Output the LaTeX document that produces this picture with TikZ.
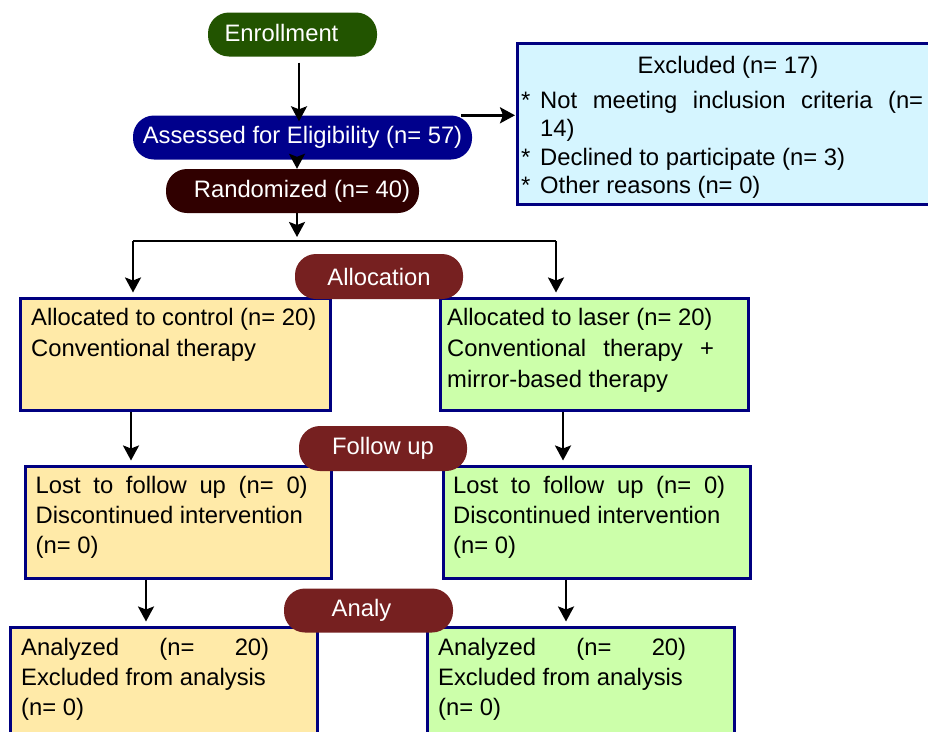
\documentclass[tikz,border=0pt]{standalone}
\usepackage{fontspec}
\setmainfont{Liberation Sans}
\usetikzlibrary{arrows.meta}
\definecolor{enrgreen}{RGB}{34,84,0}
\definecolor{assnavy}{RGB}{0,0,140}
\definecolor{randbrown}{RGB}{48,0,0}
\definecolor{stagered}{RGB}{118,32,32}
\definecolor{boxyellow}{RGB}{255,234,168}
\definecolor{boxgreen}{RGB}{204,255,170}
\definecolor{boxcyan}{RGB}{213,245,255}
\definecolor{boxborder}{RGB}{0,0,128}
\tikzset{
  pill/.style={rounded corners=21pt, text=white, inner sep=0pt, font=\fontsize{23.8}{28}\selectfont},
  box/.style={draw=boxborder, line width=3pt, inner sep=0pt},
  txt/.style={inner sep=0pt, anchor=base west},
  arr/.style={line width=2.6pt, -{Stealth[length=15pt,width=16pt,inset=3pt]}},
  ln/.style={line width=2.6pt},
}
\begin{document}
\begin{tikzpicture}[x=1pt,y=-1pt]
\clip (0,0) rectangle (928,731);
\fill[white] (0,0) rectangle (928,731);
% boxes
\node[box, fill=boxcyan, minimum width=428pt, minimum height=161pt] (exc) at (731.5,123.5) {};
\node[box, fill=boxyellow, minimum width=310pt, minimum height=112pt] (ctl) at (175,354) {};
\node[box, fill=boxgreen, minimum width=308pt, minimum height=112pt] (las) at (594,354) {};
\node[box, fill=boxyellow, minimum width=306pt, minimum height=112pt] (lostL) at (178,522) {};
\node[box, fill=boxgreen, minimum width=307pt, minimum height=112pt] (lostR) at (596.5,522) {};
\node[box, fill=boxyellow, minimum width=307pt, minimum height=130pt] (anaL) at (163.5,692) {};
\node[box, fill=boxgreen, minimum width=307pt, minimum height=130pt] (anaR) at (580.5,692) {};
% pills
\node[pill, fill=enrgreen, minimum width=169pt, minimum height=44pt] (enr) at (292.5,34.5) {\raisebox{3pt}{Enrollment}\hspace*{22pt}};
\node[pill, fill=assnavy, minimum width=339pt, minimum height=44pt] (ass) at (302.5,137.5) {Assessed for Eligibility (n= 57)};
\node[pill, fill=randbrown, minimum width=253pt, minimum height=44pt] (rand) at (292.5,191) {\hspace*{19pt}\raisebox{4pt}{Randomized (n= 40)}};
\node[pill, fill=stagered, minimum width=168pt, minimum height=45pt] (alloc) at (379,276.5) {Allocation};
\node[pill, fill=stagered, minimum width=168pt, minimum height=45pt] (fup) at (383,448.5) {Follow up};
\node[pill, fill=stagered, minimum width=169pt, minimum height=44pt] (analy) at (368.5,610.5) {Analy\hspace*{14pt}};
% texts
\begin{scope}[font=\fontsize{23.8}{28.5}\selectfont]
\node[inner sep=0pt, anchor=base] (exct) at (728,73) {Excluded (n= 17)};
\node[txt] (excl) at (521,108) {\parbox[t]{405pt}{\makebox[19pt][l]{*}\makebox[383pt][s]{Not meeting inclusion criteria (n=}\\
\hspace*{19pt}14)\\
\makebox[19pt][l]{*}Declined to participate (n= 3)\\
\makebox[19pt][l]{*}Other reasons (n= 0)}};
\end{scope}
\begin{scope}[font=\fontsize{23.8}{31}\selectfont]
\node[txt] (ctlt) at (31,325) {\parbox[t]{290pt}{Allocated to control (n= 20)\\Conventional therapy}};
\node[txt] (last) at (447,325) {\parbox[t]{290pt}{Allocated to laser (n= 20)\\\makebox[267pt][s]{Conventional therapy +}\\mirror-based therapy}};
\end{scope}
\begin{scope}[font=\fontsize{23.8}{30}\selectfont]
\node[txt] (lostLt) at (35.5,493) {\parbox[t]{290pt}{\makebox[272pt][s]{Lost to follow up (n= 0)}\\Discontinued intervention\\(n= 0)}};
\node[txt] (lostRt) at (453,493) {\parbox[t]{290pt}{\makebox[272pt][s]{Lost to follow up (n= 0)}\\Discontinued intervention\\(n= 0)}};
\node[txt] (anaLt) at (21,655) {\parbox[t]{290pt}{\makebox[248pt][s]{Analyzed (n= 20)}\\Excluded from analysis\\(n= 0)}};
\node[txt] (anaRt) at (438,655) {\parbox[t]{290pt}{\makebox[248pt][s]{Analyzed (n= 20)}\\Excluded from analysis\\(n= 0)}};
\end{scope}
% connectors
\coordinate (sp) at (297,240);
\coordinate (spL) at (133,241);
\coordinate (spR) at (556,241);
\draw[arr] ([xshift=6.5pt,yshift=-6pt]enr.south) -- ([xshift=6.5pt,yshift=-6pt]enr.south |- ass.north);
\draw[arr] ([xshift=-11pt]ass.north east) -- ([xshift=-1pt]ass.north east -| exc.west);
\draw[arr] ([xshift=4.5pt]rand.south |- ass.south) -- ([xshift=4.5pt]rand.north);
\draw[arr] ([xshift=4.5pt]rand.south) -- ([yshift=3pt]sp);
\draw[ln] (spL) -- (spR);
\draw[arr, shorten >=4pt] (spL) -- (spL |- ctl.north);
\draw[arr, shorten >=4pt] (spR) -- (spR |- las.north);
\draw[arr, shorten >=4pt] ([xshift=-44pt]ctl.south) -- ([xshift=-44pt]ctl.south |- lostL.north);
\draw[arr, shorten >=4pt] ([xshift=-31pt]las.south) -- ([xshift=-31pt]las.south |- lostR.north);
\draw[arr, shorten >=4pt] ([xshift=-32pt]lostL.south) -- ([xshift=-32pt]lostL.south |- anaL.north);
\draw[arr, shorten >=4pt] ([xshift=-30.5pt]lostR.south) -- ([xshift=-30.5pt]lostR.south |- anaR.north);
\end{tikzpicture}
\end{document}
